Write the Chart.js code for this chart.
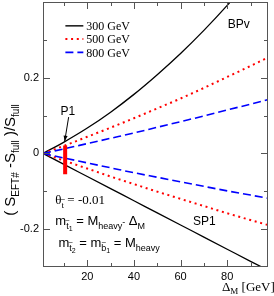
<!DOCTYPE html>
<html>
<head>
<meta charset="utf-8">
<title>EFT# vs full</title>
<script src="https://cdn.jsdelivr.net/npm/chart.js@4.4.1/dist/chart.umd.min.js"></script>
<style>
	body { margin: 0; background: #fff; }
	#wrap { width: 274px; height: 296px; }
</style>
</head>
<body>
<div id="wrap"><canvas id="effGraph" width="274" height="296"></canvas></div>
<script>
// Delta_M in GeV
var deltaM = [1, 10, 20, 30, 40, 50, 60, 70, 80, 90, 98];
// (S_EFT# - S_full)/S_full : upper branch = BPv, lower branch = SP1
var bpv300 = [0, 0.030, 0.067, 0.109, 0.156, 0.208, 0.264, 0.325, 0.391, 0.462, 0.522];
var sp1300 = [0, -0.029, -0.061, -0.093, -0.125, -0.157, -0.189, -0.221, -0.253, -0.285, -0.310];
var bpv500 = [0, 0.020, 0.044, 0.068, 0.093, 0.119, 0.145, 0.173, 0.202, 0.231, 0.255];
var sp1500 = [0, -0.019, -0.040, -0.061, -0.081, -0.101, -0.120, -0.139, -0.158, -0.176, -0.190];
var bpv800 = [0, 0.012, 0.026, 0.040, 0.054, 0.069, 0.084, 0.099, 0.115, 0.130, 0.143];
var sp1800 = [0, -0.012, -0.025, -0.038, -0.051, -0.063, -0.075, -0.087, -0.099, -0.110, -0.119];
// P1 band
var p1DeltaM = [10.5, 10.5];
var p1Range = [0.021, -0.055];

var legendLabels = ['300 GeV', '500 GeV', '800 GeV'];
var xLabelVals = [20, 40, 60, 80];
var yLabelVals = [-0.2, 0, 0.2];
var xTickVals = [10, 20, 30, 40, 50, 60, 70, 80, 90];
var yTickVals = [-0.2, -0.1, 0, 0.1, 0.2, 0.3];

var SANS = '"Liberation Sans", Arial, sans-serif';
var SERIF = '"Liberation Serif", "Times New Roman", serif';

var ctx = document.getElementById('effGraph').getContext('2d');

function pts(xs, ys) {
	return xs.map(function(x, i){ return {x: x, y: ys[i]}; });
}

function curve(xs, ys, color, width, dash) {
	return {
		data: pts(xs, ys),
		borderColor: color,
		borderWidth: width,
		borderDash: dash,
		borderCapStyle: 'butt',
		cubicInterpolationMode: 'monotone',
		pointRadius: 0,
		fill: false
	};
}

// text with sub/superscripts, returns end x
function richText(c, x, y, parts, dryRun) {
	for (var i = 0; i < parts.length; i++) {
		var p = parts[i];
		c.font = p.f;
		var w = c.measureText(p.t).width;
		if (!dryRun) {
			c.fillText(p.t, x, y + (p.dy || 0));
			if (p.tilde) {
				c.save();
				c.font = '8px ' + SANS;
				c.textAlign = 'center';
				c.fillText('~', x + w / 2, y + (p.dy || 0) - 6);
				c.restore();
			}
		}
		x += w;
	}
	return x;
}

// frame + inward ticks on all four sides
var framePlugin = {
	id: 'frame',
	afterDatasetsDraw: function(chart) {
		var c = chart.ctx, a = chart.chartArea;
		var xs = chart.scales.x, ys = chart.scales.y;
		c.save();
		c.strokeStyle = '#555';
		c.lineWidth = 1;
		c.strokeRect(a.left + 0.5, a.top + 0.5, a.right - a.left - 1, a.bottom - a.top - 1);
		c.beginPath();
		xTickVals.forEach(function(v){
			var p = Math.round(xs.getPixelForValue(v)) + 0.5;
			var len = (v % 20 === 0) ? 7 : 4;
			c.moveTo(p, a.bottom); c.lineTo(p, a.bottom - len);
			c.moveTo(p, a.top); c.lineTo(p, a.top + len);
		});
		yTickVals.forEach(function(v){
			var p = Math.round(ys.getPixelForValue(v)) + 0.5;
			var len = (Math.round(v * 10) % 2 === 0) ? 7 : 4;
			c.moveTo(a.left, p); c.lineTo(a.left + len, p);
			c.moveTo(a.right, p); c.lineTo(a.right - len, p);
		});
		c.stroke();
		c.restore();
	}
};

var notePlugin = {
	id: 'notes',
	afterDraw: function(chart) {
		var c = chart.ctx;
		var xs = chart.scales.x, ys = chart.scales.y;
		function X(v){ return xs.getPixelForValue(v); }
		function Y(v){ return ys.getPixelForValue(v); }
		c.save();
		c.fillStyle = '#000';

		// legend
		var legY = [0.337, 0.302, 0.267];
		var legStyle = [['#000', 1.4, []], ['red', 2, [2, 3.7]], ['blue', 1.6, [8, 4]]];
		for (var i = 0; i < legendLabels.length; i++) {
			c.beginPath();
			c.strokeStyle = legStyle[i][0];
			c.lineWidth = legStyle[i][1];
			c.setLineDash(legStyle[i][2]);
			c.moveTo(X(10.6), Y(legY[i]));
			c.lineTo(X(18.3), Y(legY[i]));
			c.stroke();
			c.setLineDash([]);
			c.font = '12px ' + SERIF;
			c.textBaseline = 'middle';
			c.fillText(legendLabels[i], X(19.6), Y(legY[i]) + 1);
		}

		// labels
		c.font = '12px ' + SANS;
		c.textAlign = 'center';
		c.fillText('BPv', X(85), Y(0.339));
		c.fillText('SP1', X(70.2), Y(-0.179));
		c.fillText('P1', X(11.6), Y(0.111));

		// arrow to P1
		var x0 = X(12.0), y0 = Y(0.096), x1 = X(10.3), y1 = Y(0.032);
		c.strokeStyle = '#000';
		c.lineWidth = 1;
		c.beginPath(); c.moveTo(x0, y0); c.lineTo(x1, y1); c.stroke();
		var ang = Math.atan2(y1 - y0, x1 - x0);
		c.beginPath();
		c.moveTo(x1, y1);
		c.lineTo(x1 - 6 * Math.cos(ang - 0.35), y1 - 6 * Math.sin(ang - 0.35));
		c.lineTo(x1 - 6 * Math.cos(ang + 0.35), y1 - 6 * Math.sin(ang + 0.35));
		c.closePath(); c.fill();

		// parameter block
		c.textAlign = 'left';
		c.textBaseline = 'alphabetic';
		var m13 = '13px ' + SANS, s9 = '9px ' + SANS, ss7 = '7px ' + SANS;
		richText(c, X(6.3), Y(-0.133), [
			{t: 'θ', f: '13px ' + SERIF},
			{t: 't', f: '9px ' + SERIF, dy: 4, tilde: true},
			{t: ' = -0.01', f: '13px ' + SERIF}
		]);
		richText(c, X(6.3), Y(-0.188), [
			{t: 'm', f: m13},
			{t: 't', f: s9, dy: 4, tilde: true},
			{t: '1', f: ss7, dy: 6},
			{t: ' = M', f: m13},
			{t: 'heavy', f: s9, dy: 4},
			{t: '-', f: s9, dy: 0},
			{t: ' Δ', f: m13},
			{t: 'M', f: s9, dy: 4}
		]);
		richText(c, X(7.6), Y(-0.246), [
			{t: 'm', f: m13},
			{t: 't', f: s9, dy: 4, tilde: true},
			{t: '2', f: ss7, dy: 6},
			{t: ' = m', f: m13},
			{t: 'b', f: s9, dy: 4, tilde: true},
			{t: '1', f: ss7, dy: 6},
			{t: ' = M', f: m13},
			{t: 'heavy', f: s9, dy: 4}
		]);

		// x axis title
		richText(c, 222, 291, [
			{t: 'Δ', f: '13px ' + SERIF},
			{t: 'M', f: '9px ' + SERIF, dy: 3},
			{t: ' [GeV]', f: '13px ' + SERIF}
		]);

		// y axis title
		var yt = [
			{t: '( ', f: '15px ' + SANS},
			{t: 'S', f: '15px ' + SANS},
			{t: 'EFT#', f: '10px ' + SANS, dy: 4},
			{t: ' -', f: '15px ' + SANS},
			{t: 'S', f: '15px ' + SANS},
			{t: 'full', f: '10px ' + SANS, dy: 4},
			{t: ' )/', f: '15px ' + SANS},
			{t: 'S', f: '15px ' + SANS},
			{t: 'full', f: '10px ' + SANS, dy: 4}
		];
		var tw = richText(c, 0, 0, yt, true);
		c.translate(15, 160);
		c.rotate(-Math.PI / 2);
		richText(c, -tw / 2, 0, yt);
		c.restore();
	}
};

var chart = new Chart(ctx, {
	type: 'line',
	data: {
		datasets: [
			{ data: pts(p1DeltaM, p1Range), borderColor: 'red', borderWidth: 4, borderCapStyle: 'butt', pointRadius: 0 },
			curve(deltaM, bpv800, 'blue', 1.6, [8, 4]),
			curve(deltaM, sp1800, 'blue', 1.6, [8, 4]),
			curve(deltaM, bpv500, 'red', 2, [2, 3.7]),
			curve(deltaM, sp1500, 'red', 2, [2, 3.7]),
			curve(deltaM, bpv300, '#000', 1.3, []),
			curve(deltaM, sp1300, '#000', 1.3, [])
		]
	},
	options: {
		responsive: false,
		animation: false,
		devicePixelRatio: 1,
		layout: { padding: { top: 2, right: 6, left: 0, bottom: 0 } },
		plugins: { legend: { display: false }, tooltip: { enabled: false } },
		scales: {
			x: {
				type: 'linear',
				min: 1,
				max: 97.5,
				grid: { display: false, drawTicks: false },
				border: { display: false },
				ticks: {
					stepSize: 10,
					autoSkip: false,
					maxRotation: 0,
					padding: 3,
					color: '#000',
					font: { family: SANS, size: 11 },
					callback: function(v){ return xLabelVals.indexOf(v) >= 0 ? String(v) : ''; }
				},
				afterFit: function(s){
					s.height = 29;
					s.paddingLeft = 0;
					s.paddingRight = 0;
				}
			},
			y: {
				min: -0.3,
				max: 0.4,
				grid: { display: false, drawTicks: false },
				border: { display: false },
				ticks: {
					stepSize: 0.1,
					autoSkip: false,
					padding: 4,
					color: '#000',
					font: { family: SANS, size: 11 },
					callback: function(v){
						for (var i = 0; i < yLabelVals.length; i++) {
							if (Math.abs(v - yLabelVals[i]) < 1e-9) return yLabelVals[i] === 0 ? '0' : yLabelVals[i].toFixed(1);
						}
						return '';
					}
				},
				afterFit: function(s){
					s.width = 43;
					s.paddingTop = 0;
					s.paddingBottom = 0;
				}
			}
		}
	},
	plugins: [framePlugin, notePlugin]
});
</script>
</body>
</html>
